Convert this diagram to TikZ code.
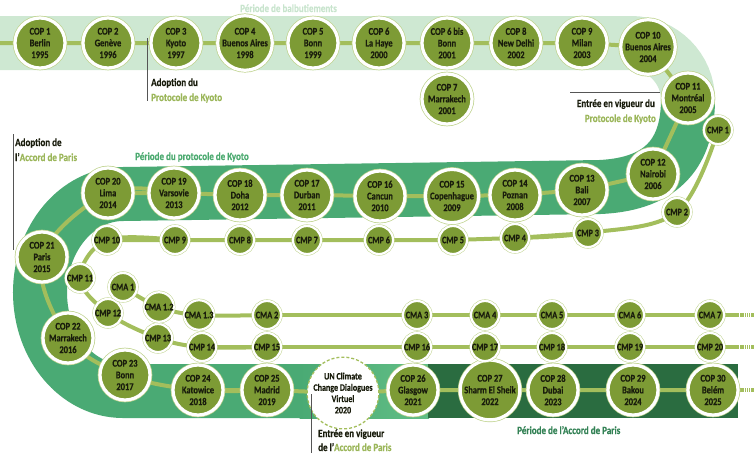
\documentclass[tikz,border=0pt]{standalone}
\usepackage{fontspec}
\setmainfont{Carlito}[FakeStretch=0.82, BoldFeatures={FakeBold=0.4}]
\pgfdeclarelayer{bands}
\pgfdeclarelayer{lines}
\pgfsetlayers{bands,lines,main}
\definecolor{lightband}{RGB}{206,232,210}
\definecolor{medband}{RGB}{74,170,116}
\definecolor{medlight}{RGB}{98,190,134}
\definecolor{darkband}{RGB}{42,108,64}
\definecolor{olive}{RGB}{125,155,53}
\definecolor{connc}{RGB}{163,190,92}
\definecolor{ringout}{RGB}{190,210,140}
\definecolor{txtolive}{RGB}{155,182,90}
\definecolor{txtgreen}{RGB}{76,170,112}
\definecolor{txtdark}{RGB}{52,130,86}
\definecolor{txtpale}{RGB}{200,228,205}
\definecolor{notegray}{RGB}{85,85,85}
\definecolor{ink}{RGB}{25,28,12}
\tikzset{
  basec/.style={circle, fill=olive, draw=white, inner sep=0pt, align=center, text=ink},
  cop/.style={basec, minimum size=50pt, line width=3.2pt,
    font=\bfseries\fontsize{10.3}{11.7}\selectfont,
    preaction={draw=ringout, line width=4.6pt}},
  cmp/.style={basec, minimum size=28pt, line width=2.2pt,
    font=\bfseries\fontsize{10}{11}\selectfont,
    preaction={draw=ringout, line width=3.2pt}},
  uncirc/.style={circle, fill=white, draw=connc, dash pattern=on 3pt off 2pt,
    line width=1.3pt, minimum size=59pt, inner sep=0pt, align=center, text=ink,
    font=\bfseries\fontsize{9.8}{11.3}\selectfont},
  connline/.style={connc, line width=4pt},
  contline/.style={connc, line width=4pt, dash pattern=on 1.3pt off 0.9pt},
  note/.style={notegray, line width=0.9pt},
  notetxt/.style={anchor=base west, inner sep=0pt, text=ink, font=\bfseries\fontsize{11}{13}\selectfont},
}
\begin{document}
\begin{tikzpicture}[x=1pt,y=-1pt]
\useasboundingbox (0,0) rectangle (754,469);
% ---------- COP nodes
\node[cop] (cop1) at (40,43) {COP 1\\Berlin\\1995};
\node[cop] (cop2) at (108,43) {COP 2\\Genève\\1996};
\node[cop] (cop3) at (176,43) {COP 3\\Kyoto\\1997};
\node[cop] (cop4) at (245,43) {COP 4\\Buenos Aires\\1998};
\node[cop] (cop5) at (313,43) {COP 5\\Bonn\\1999};
\node[cop] (cop6) at (379,43) {COP 6\\La Haye\\2000};
\node[cop] (cop6b) at (447,43) {COP 6 bis\\Bonn\\2001};
\node[cop] (cop7) at (447,99) {COP 7\\Marrakech\\2001};
\node[cop] (cop8) at (516,43) {COP 8\\New Delhi\\2002};
\node[cop] (cop9) at (582,43) {COP 9\\Milan\\2003};
\node[cop] (cop10) at (648,47) {COP 10\\Buenos Aires\\2004};
\node[cop] (cop11) at (688,98) {COP 11\\Montréal\\2005};
\node[cop] (cop12) at (653,174) {COP 12\\Nairobi\\2006};
\node[cop] (cop13) at (582,190) {COP 13\\Bali\\2007};
\node[cop] (cop14) at (515,195) {COP 14\\Poznan\\2008};
\node[cop] (cop15) at (452,196) {COP 15\\Copenhague\\2009};
\node[cop] (cop16) at (380,196) {COP 16\\Cancun\\2010};
\node[cop] (cop17) at (307,195) {COP 17\\Durban\\2011};
\node[cop] (cop18) at (240,195) {COP 18\\Doha\\2012};
\node[cop] (cop19) at (174,193) {COP 19\\Varsovie\\2013};
\node[cop] (cop20) at (108,193) {COP 20\\Lima\\2014};
\node[cop] (cop21) at (42,257) {COP 21\\Paris\\2015};
\node[cop] (cop22) at (68,338) {COP 22\\Marrakech\\2016};
\node[cop] (cop23) at (125,375) {COP 23\\Bonn\\2017};
\node[cop] (cop24) at (198,390) {COP 24\\Katowice\\2018};
\node[cop] (cop25) at (267,390) {COP 25\\Madrid\\2019};
\node[uncirc] (un) at (343,393) {UN Climate\\Change Dialogues\\Virtuel\\2020};
\node[cop] (cop26) at (413,390) {COP 26\\Glasgow\\2021};
\node[cop] (cop27) at (490,390) {COP 27\\Sharm El Sheik\\2022};
\node[cop] (cop28) at (553,390) {COP 28\\Dubai\\2023};
\node[cop] (cop29) at (633,390) {COP 29\\Bakou\\2024};
\node[cop] (cop30) at (713,390) {COP 30\\Belém\\2025};
% ---------- CMP nodes
\node[cmp] (cmp1) at (718,130) {CMP 1};
\node[cmp] (cmp2) at (677,212) {CMP 2};
\node[cmp] (cmp3) at (588,233) {CMP 3};
\node[cmp] (cmp4) at (515,238) {CMP 4};
\node[cmp] (cmp5) at (453,240) {CMP 5};
\node[cmp] (cmp6) at (379,240) {CMP 6};
\node[cmp] (cmp7) at (307,240) {CMP 7};
\node[cmp] (cmp8) at (240,240) {CMP 8};
\node[cmp] (cmp9) at (175,240) {CMP 9};
\node[cmp] (cmp10) at (107,240) {CMP 10};
\node[cmp] (cmp11) at (80,278) {CMP 11};
\node[cmp] (cmp12) at (108,313) {CMP 12};
\node[cmp] (cmp13) at (158,338) {CMP 13};
\node[cmp] (cmp14) at (202,347) {CMP 14};
\node[cmp] (cmp15) at (267,347) {CMP 15};
\node[cmp] (cmp16) at (417,347) {CMP 16};
\node[cmp] (cmp17) at (485,347) {CMP 17};
\node[cmp] (cmp18) at (552,347) {CMP 18};
\node[cmp] (cmp19) at (630,347) {CMP 19};
\node[cmp] (cmp20) at (710,347) {CMP 20};
% ---------- CMA nodes
\node[cmp] (cma1) at (123,287) {CMA 1};
\node[cmp] (cma12) at (159,307) {CMA 1.2};
\node[cmp] (cma13) at (199,315) {CMA 1.3};
\node[cmp] (cma2) at (267,315) {CMA 2};
\node[cmp] (cma3) at (417,315) {CMA 3};
\node[cmp] (cma4) at (485,315) {CMA 4};
\node[cmp] (cma5) at (552,315) {CMA 5};
\node[cmp] (cma6) at (630,315) {CMA 6};
\node[cmp] (cma7) at (710,315) {CMA 7};
% ---------- free ends
\coordinate (copS) at (0,43);
\coordinate (copE) at (738,390);
\coordinate (copF) at (754,390);
\coordinate (cmpE) at (738,347);
\coordinate (cmpF) at (754,347);
\coordinate (cmaE) at (738,315);
\coordinate (cmaF) at (754,315);
% ---------- bands
\begin{pgfonlayer}{bands}
\draw[lightband, line width=54pt] (0,43) -- (631,43) arc[start angle=270, end angle=360, radius=57];
\draw[medband, line width=54pt] (688,99) .. controls (688,150) and (665,184) .. (600,187)
  -- (123,194) arc[start angle=270, end angle=90, x radius=83, y radius=98.5] -- (300,391);
\shade[left color=medband, right color=medlight] (299.5,364) rectangle (429,418);
\fill[darkband] (428,364) rectangle (738,418);
\end{pgfonlayer}
% ---------- connectors
\begin{pgfonlayer}{lines}
\draw[connline] (copS) -- (cop1.center) -- (cop2.center) -- (cop3.center) -- (cop4.center)
  -- (cop5.center) -- (cop6.center) -- (cop6b.center) -- (cop8.center) -- (cop9.center)
  -- (cop10.center) -- (cop11.center) -- (cop12.center) -- (cop13.center) -- (cop14.center)
  -- (cop15.center) -- (cop16.center) -- (cop17.center) -- (cop18.center) -- (cop19.center)
  -- (cop20.center);
\draw[connline] plot[smooth, tension=0.6] coordinates {(cop19.center) (cop20.center) (cop21.center) (cop22.center) (cop23.center) (cop24.center) (cop25.center)};
\draw[connline] (cop24.center) -- (cop25.center) -- (un.center) -- (cop26.center) -- (cop27.center)
  -- (cop28.center) -- (cop29.center) -- (cop30.center) -- (copE);
\draw[contline] (copE) -- (copF);
\draw[connline] plot[smooth, tension=0.6] coordinates {(cmp1.center) (cmp2.center) (cmp3.center) (cmp4.center)};
\draw[connline] (cmp3.center) -- (cmp4.center) -- (cmp5.center) -- (cmp6.center) -- (cmp7.center)
  -- (cmp8.center) -- (cmp9.center) -- (cmp10.center);
\draw[connline] plot[smooth, tension=0.6] coordinates {(cmp9.center) (cmp10.center) (cmp11.center) (cmp12.center) (cmp13.center) (cmp14.center) (cmp15.center)};
\draw[connline] (cmp14.center) -- (cmp15.center) -- (cmp16.center) -- (cmp17.center) -- (cmp18.center)
  -- (cmp19.center) -- (cmp20.center) -- (cmpE);
\draw[contline] (cmpE) -- (cmpF);
\draw[connline] plot[smooth, tension=0.6] coordinates {(cma1.center) (cma12.center) (cma13.center) (cma2.center)};
\draw[connline] (cma2.center) -- (cma3.center) -- (cma4.center) -- (cma5.center) -- (cma6.center)
  -- (cma7.center) -- (cmaE);
\draw[contline] (cmaE) -- (cmaF);
\end{pgfonlayer}
% ---------- annotations
\coordinate (n1a) at (147,38); \coordinate (n1b) at (147,101);
\draw[note] (n1a) -- (n1b);
\node[notetxt] (t1a) at (151,86) {Adoption du};
\node[notetxt, text=txtolive] (t1b) at (151,101) {Protocole de Kyoto};
\coordinate (n2a) at (570,92); \coordinate (n2b) at (660,92);
\draw[note] (n2a) -- (n2b);
\node[notetxt, anchor=base east] (t2a) at (655,107) {Entrée en vigueur du};
\node[notetxt, anchor=base east, text=txtolive] (t2b) at (656,122) {Protocole de Kyoto};
\coordinate (n3a) at (13,134); \coordinate (n3b) at (13,250);
\draw[note] (n3a) -- (n3b);
\node[notetxt] (t3a) at (15,146) {Adoption de};
\node[notetxt] (t3b) at (15,161) {l'\textcolor{txtolive}{Accord de Paris}};
\coordinate (n4a) at (311,394); \coordinate (n4b) at (311,453);
\draw[note] (n4a) -- (n4b);
\node[notetxt] (t4a) at (318,437) {Entrée en vigueur};
\node[notetxt] (t4b) at (318,451) {de l'\textcolor{txtolive}{Accord de Paris}};
\node[notetxt, text=txtpale] (p1) at (240,12) {Période de balbutiements};
\node[notetxt, text=txtgreen] (p2) at (135,160) {Période du protocole de Kyoto};
\node[notetxt, text=txtdark] (p3) at (517,434) {Période de l'Accord de Paris};
\end{tikzpicture}
\end{document}
